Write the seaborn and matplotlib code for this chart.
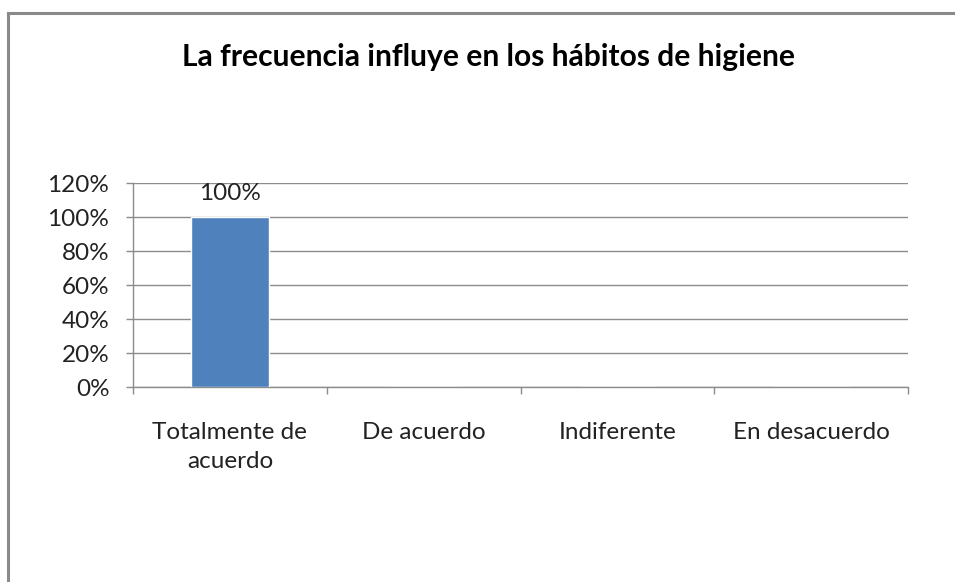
import numpy as np
import pandas as pd
import matplotlib
matplotlib.use("Agg")
import matplotlib.pyplot as plt
import seaborn as sns
from matplotlib.lines import Line2D
from matplotlib.ticker import FuncFormatter, FixedLocator

sns.set_theme(style="white")
plt.rcParams['font.family'] = ['Lato', 'DejaVu Sans']

categorias = ['Totalmente de\nacuerdo', 'De acuerdo', 'Indiferente', 'En desacuerdo']
porcentajes = [100, 0, 0, 0]
titulo = 'La frecuencia influye en los hábitos de higiene'

df = pd.DataFrame({'cat': categorias, 'pct': porcentajes})

fig = plt.figure(figsize=(9.55, 5.82), dpi=100)
ax = fig.add_axes([133/955, 1 - 387/582, (908 - 133)/955, (387 - 183)/582])

sns.barplot(data=df, x='cat', y='pct', ax=ax, color='#4F81BD', width=0.4,
            saturation=1, zorder=3)

# solo se etiqueta la barra con valor
etiquetas = [f"{v:.0f}%" if v > 0 else "" for v in porcentajes]
ax.bar_label(ax.containers[0], labels=etiquetas, padding=9, fontsize=17.5, color='#222222')

ax.set_ylim(0, 120)
ax.set_xlim(-0.5, 3.5)
ax.set_yticks(range(0, 121, 20))
ax.yaxis.set_major_formatter(FuncFormatter(lambda v, p: f"{v:.0f}%"))
ax.grid(axis='y', color='#8c8c8c', linewidth=1, zorder=0)
ax.set_axisbelow(True)

ax.set_xlabel('')
ax.set_ylabel('')
for lado in ['top', 'right']:
    ax.spines[lado].set_visible(False)
for lado in ['left', 'bottom']:
    ax.spines[lado].set_color('#8c8c8c')
    ax.spines[lado].set_linewidth(1)

ax.tick_params(axis='y', which='major', length=5, width=1, color='#8c8c8c',
               labelsize=17.5, labelcolor='#222222', pad=12, left=True)
ax.tick_params(axis='x', which='major', length=0, labelsize=17.5, labelcolor='#222222', pad=25)
ax.xaxis.set_minor_locator(FixedLocator([-0.5, 0.5, 1.5, 2.5, 3.5]))
ax.tick_params(axis='x', which='minor', length=5, width=1, color='#8c8c8c', bottom=True)
for t in ax.get_xticklabels():
    t.set_linespacing(1.5)

fig.text(488/955, 1 - 57/582, titulo, ha='center', va='center', fontsize=21.6,
         fontweight='bold', color='#000000')

# marco gris del grafico (solo se ven el lado izquierdo y el superior)
x_borde = 8/955
y_borde = 1 - 13/582
fig.add_artist(Line2D([x_borde, x_borde], [0, y_borde], color='#8a8a8a', linewidth=2.2,
                      transform=fig.transFigure, solid_capstyle='projecting'))
fig.add_artist(Line2D([x_borde, 1], [y_borde, y_borde], color='#8a8a8a', linewidth=2.2,
                      transform=fig.transFigure, solid_capstyle='projecting'))

fig.savefig('out.png', dpi=100)
